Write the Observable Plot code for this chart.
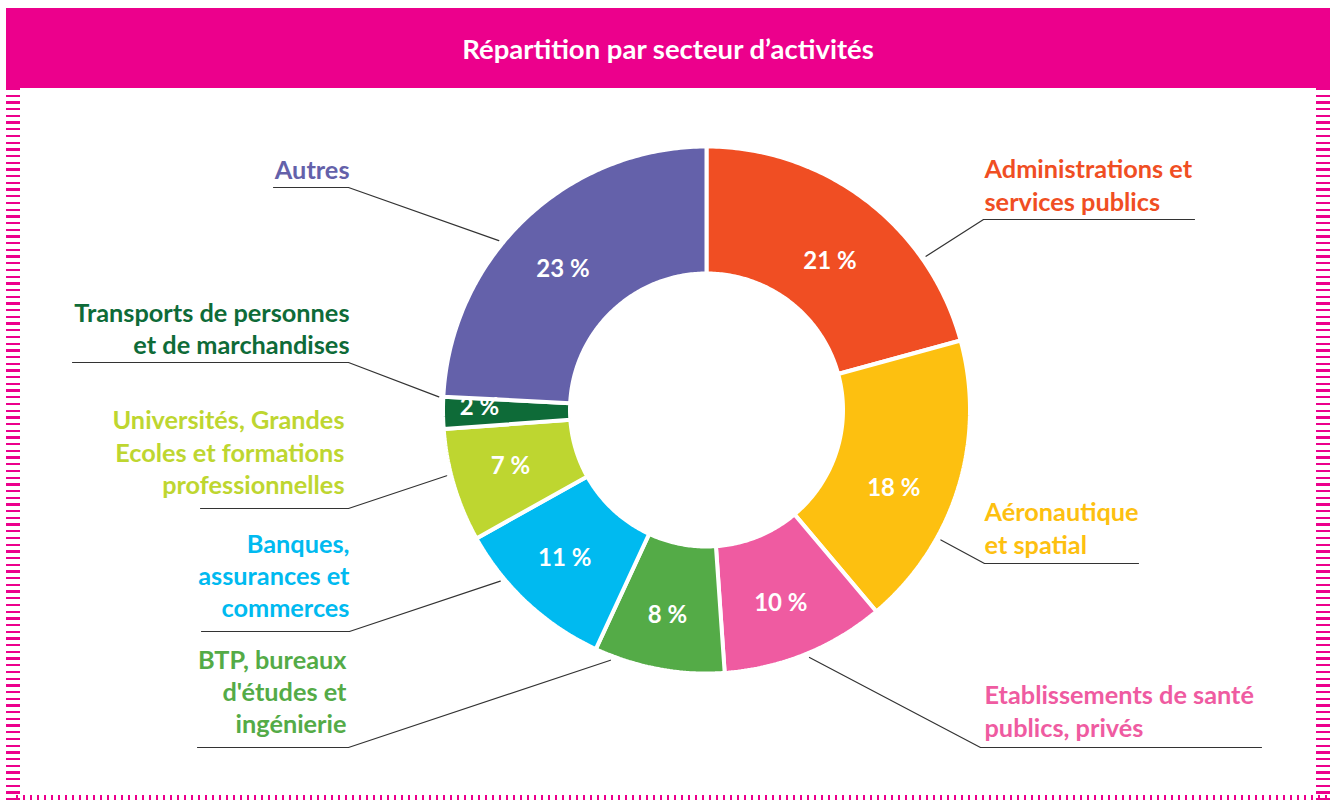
<!DOCTYPE html>
<html>
<head>
<meta charset="utf-8">
<script src="https://cdn.jsdelivr.net/npm/d3@7"></script>
<script src="https://cdn.jsdelivr.net/npm/@observablehq/plot@0.6"></script>
<style>
  html, body { margin: 0; padding: 0; background: #fff; }
  body { width: 1337px; height: 800px; position: relative; overflow: hidden; font-family: Lato, "Open Sans", sans-serif; }
  #header { position: absolute; left: 6px; top: 8px; width: 1324px; height: 80px; background: #EC008C;
            color: #fff; font-weight: 700; font-size: 27.5px; display: flex; align-items: center; justify-content: center; }
  #header span { position: relative; top: 0px; }
  #chart { position: absolute; left: 0; top: 88px; }
  .dots { position: absolute; pointer-events: none; }
  #dl { left: 6px; top: 88px; width: 14px; height: 712px; background: repeating-linear-gradient(to bottom, #EC008C 0 2.3px, transparent 2.3px 6.7px); }
  #dr { left: 1316px; top: 88px; width: 14px; height: 712px; background: repeating-linear-gradient(to bottom, #EC008C 0 2.3px, transparent 2.3px 6.7px); }
  #db { left: 16px; top: 795px; width: 1314px; height: 5px; background: repeating-linear-gradient(to right, #EC008C 0 2px, transparent 2px 7px); }
</style>
</head>
<body>
<div id="header"><span>Répartition par secteur d’activités</span></div>
<div id="chart"></div>
<div class="dots" id="dl"></div>
<div class="dots" id="dr"></div>
<div class="dots" id="db"></div>
<script>
// ---- data ----
const categories = [
  "Administrations et services publics",
  "Aéronautique et spatial",
  "Etablissements de santé publics, privés",
  "BTP, bureaux d'études et ingénierie",
  "Banques, assurances et commerces",
  "Universités, Grandes Ecoles et formations professionnelles",
  "Transports de personnes et de marchandises",
  "Autres"
];
// percentages printed on the slices
const values = [21, 18, 10, 8, 11, 7, 2, 23];
// slice sizes as drawn in the reference (measured arc angles, in %)
const arcShares = [20.75, 18.1, 10.05, 8.0, 10.0, 6.95, 1.95, 24.2];
const colors = ["#F04E23", "#FDC010", "#EF5BA1", "#54AB47", "#00BAF0", "#BED630", "#0E6B38", "#6461AA"];
const labelLines = [
  ["Administrations et", "services publics"],
  ["Aéronautique", "et spatial"],
  ["Etablissements de santé", "publics, privés"],
  ["BTP, bureaux", "d'études et", "ingénierie"],
  ["Banques,", "assurances et", "commerces"],
  ["Universités, Grandes", "Ecoles et formations", "professionnelles"],
  ["Transports de personnes", "et de marchandises"],
  ["Autres"]
];

// ---- layout ----
const cx = 706, cy = 409.5, rOuter = 263.5, rInner = 136.5, rLeader = 268;
const FONT = "Lato, 'Open Sans', sans-serif";
const labelLayout = [
  {angle: 55,    elbowX: 983, elbowY: 219, endX: 1194, textX: 984, anchor: "start", baselines: [177, 210]},
  {angle: 119,   elbowX: 984, elbowY: 563, endX: 1138, textX: 984, anchor: "start", baselines: [520, 553]},
  {angle: 157.4, elbowX: 980, elbowY: 747, endX: 1261, textX: 984, anchor: "start", baselines: [703, 736]},
  {angle: 201,   elbowX: 348, elbowY: 747, endX: 197,  textX: 346, anchor: "end",   baselines: [668, 700, 732]},
  {angle: 230.3, elbowX: 349, elbowY: 631, endX: 201,  textX: 349, anchor: "end",   baselines: [552, 584, 616]},
  {angle: 255.8, elbowX: 348, elbowY: 508, endX: 200,  textX: 344, anchor: "end",   baselines: [428, 461, 493]},
  {angle: 272.8, elbowX: 348, elbowY: 362, endX: 72,   textX: 349, anchor: "end",   baselines: [321, 353]},
  {angle: 309.2, elbowX: 348, elbowY: 187, endX: 273,  textX: 349, anchor: "end",   baselines: [178]}
];
// percentage label placement relative to slice mid-angle
const pctRadius = [193, 203, 207, 209, 205, 204, 227, 201];
const pctAngleShift = [2.4, 5.4, 1, 0.3, 0.9, 0.6, 1.2, -2];

// ---- geometry from data ----
const arcs = d3.pie().sort(null).value(d => d)(arcShares);
const pt = (a, r) => [cx + r * Math.sin(a), cy - r * Math.cos(a)];

const slicePts = [];
arcs.forEach((arc, i) => {
  const n = Math.max(8, Math.ceil((arc.endAngle - arc.startAngle) * 80));
  const ring = [];
  for (let k = 0; k <= n; k++) ring.push(pt(arc.startAngle + (arc.endAngle - arc.startAngle) * k / n, rOuter));
  for (let k = n; k >= 0; k--) ring.push(pt(arc.startAngle + (arc.endAngle - arc.startAngle) * k / n, rInner));
  ring.push(ring[0]);
  ring.forEach(([x, y]) => slicePts.push({cat: categories[i], color: colors[i], x, y}));
});

const pctLabels = arcs.map((arc, i) => {
  const mid = (arc.startAngle + arc.endAngle) / 2 + pctAngleShift[i] * Math.PI / 180;
  const [x, y] = pt(mid, pctRadius[i]);
  return {x, y, text: `${values[i]} %`};
});

const leaderPts = [];
labelLayout.forEach((L, i) => {
  const [sx, sy] = pt(L.angle * Math.PI / 180, rLeader);
  leaderPts.push({cat: categories[i], x: sx, y: sy});
  leaderPts.push({cat: categories[i], x: L.elbowX, y: L.elbowY});
  leaderPts.push({cat: categories[i], x: L.endX, y: L.elbowY});
});

const textRows = [];
labelLayout.forEach((L, i) => {
  labelLines[i].forEach((line, j) => {
    textRows.push({x: L.textX, y: L.baselines[j], text: line, color: colors[i], anchor: L.anchor});
  });
});

const chart = Plot.plot({
  width: 1337,
  height: 712,
  margin: 0,
  x: {domain: [0, 1337], range: [0, 1337], axis: null},
  y: {domain: [88, 800], range: [0, 712], axis: null},
  color: {type: "identity"},
  style: {background: "transparent", fontFamily: FONT},
  marks: [
    Plot.line(slicePts, {x: "x", y: "y", z: "cat", fill: "color", stroke: "#fff", strokeWidth: 4, strokeLinejoin: "miter"}),
    Plot.text(pctLabels, {x: "x", y: "y", text: "text", fill: "#fff", fontSize: 24, fontWeight: "bold", fontFamily: FONT}),
    Plot.line(leaderPts, {x: "x", y: "y", z: "cat", stroke: "#333", strokeWidth: 1.2}),
    Plot.text(textRows.filter(d => d.anchor === "start"), {x: "x", y: "y", text: "text", fill: "color", textAnchor: "start", lineAnchor: "bottom", fontSize: 25.3, fontWeight: "bold", fontFamily: FONT}),
    Plot.text(textRows.filter(d => d.anchor === "end"), {x: "x", y: "y", text: "text", fill: "color", textAnchor: "end", lineAnchor: "bottom", fontSize: 25.3, fontWeight: "bold", fontFamily: FONT})
  ]
});
document.getElementById("chart").appendChild(chart);
</script>
</body>
</html>
